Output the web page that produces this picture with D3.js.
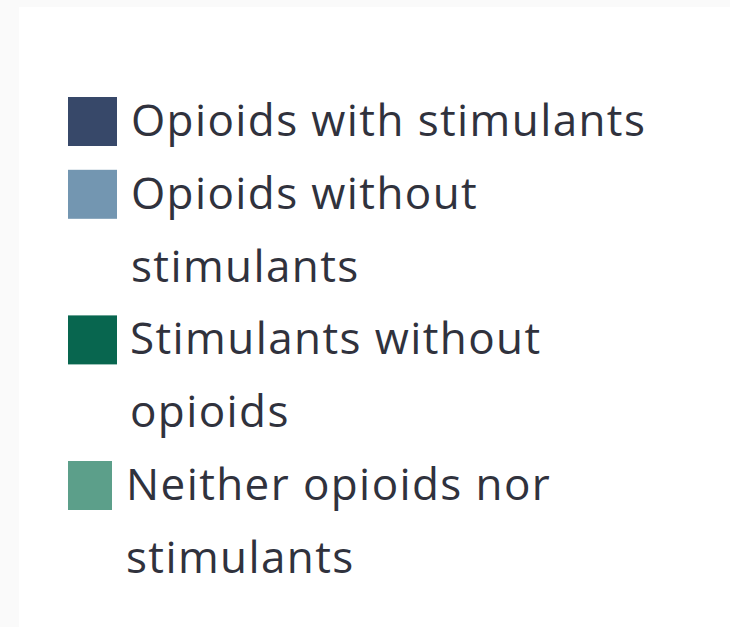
<!DOCTYPE html>
<html>
<head>
<meta charset="utf-8">
<script src="https://cdn.jsdelivr.net/npm/d3@7"></script>
<style>
  html, body { margin: 0; padding: 0; background: #fafafa; }
  svg { display: block; }
</style>
</head>
<body>
<svg id="chart" width="730" height="627"></svg>
<script>
const seriesNames = [
  "Opioids with stimulants",
  "Opioids without stimulants",
  "Stimulants without opioids",
  "Neither opioids nor stimulants"
];
const seriesLines = [
  ["Opioids with stimulants"],
  ["Opioids without", "stimulants"],
  ["Stimulants without", "opioids"],
  ["Neither opioids nor", "stimulants"]
];
const seriesColors = ["#374869", "#7396b1", "#08664f", "#5c9f8a"];

const svg = d3.select("#chart");
svg.append("rect").attr("x", 19).attr("y", 7).attr("width", 711).attr("height", 620).attr("fill", "#ffffff");

// line index -> baseline y
const lineY = d3.scaleLinear().domain([0, 1]).range([136, 208.8]);
const swatchW = [49, 49, 49, 44];
const textX = [131, 131, 130, 126];

let idx = 0;
const items = seriesNames.map((name, i) => {
  const it = { name, lines: seriesLines[i], color: seriesColors[i], start: idx, i };
  idx += seriesLines[i].length;
  return it;
});

const g = svg.append("g");
const item = g.selectAll("g.item").data(items).join("g").attr("class", "item");

item.append("rect")
  .attr("x", 68)
  .attr("y", d => lineY(d.start) - 39)
  .attr("width", d => swatchW[d.i])
  .attr("height", 49)
  .attr("fill", d => d.color);

item.each(function(d) {
  d3.select(this).selectAll("text").data(d.lines).join("text")
    .attr("x", textX[d.i])
    .attr("y", (l, j) => lineY(d.start + j))
    .attr("font-family", "'Open Sans', sans-serif")
    .attr("font-size", 44)
    .attr("letter-spacing", 1.4)
    .attr("fill", "#30323d")
    .text(l => l);
});
</script>
</body>
</html>
